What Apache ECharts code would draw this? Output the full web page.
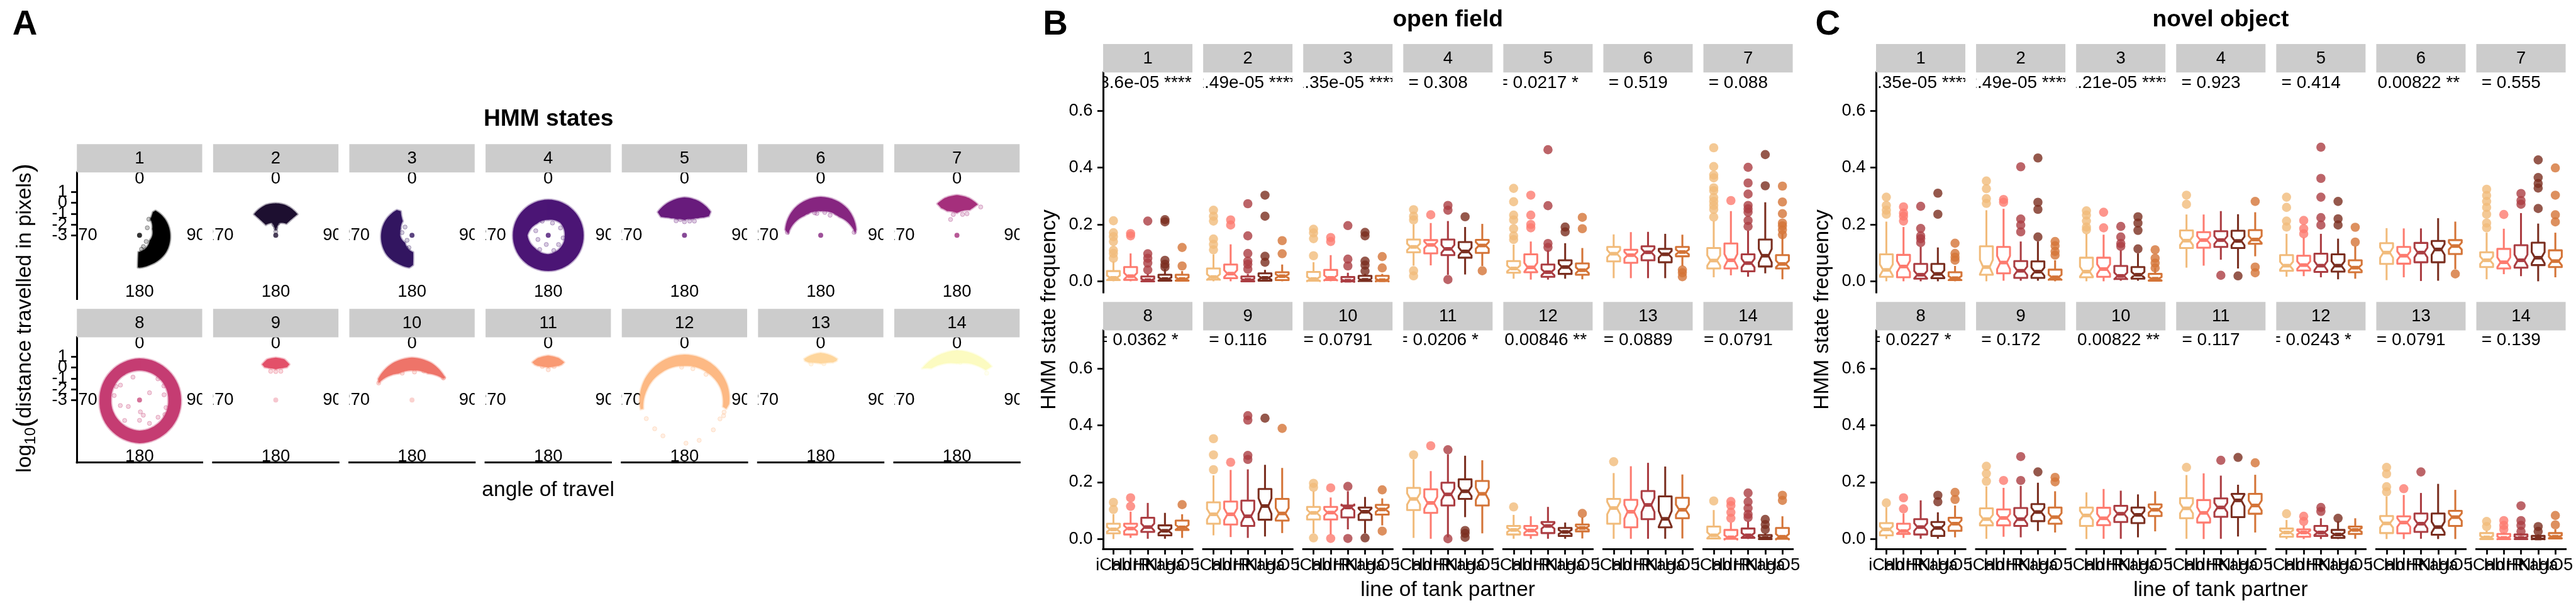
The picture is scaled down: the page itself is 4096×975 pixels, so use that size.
<!DOCTYPE html>
<html><head><meta charset="utf-8">
<style>html,body{margin:0;padding:0;background:#fff}#c{width:4096px;height:975px}</style>
<script src="https://cdn.jsdelivr.net/npm/echarts@6/dist/echarts.min.js"></script>
</head><body><div id="c"></div>
<script>
// ---------- categories, ticks, labels ----------
const lineNames = ['iCab','HdrR','HNI','Kaga','HO5'];
const lineColors = ['#F1BB7B','#FD7B6F','#AB3D42','#7A2E1F','#D47437'];
const stateColors = ['#000000','#1D0F30','#321560','#4B1575','#681B7C','#862580','#A52F7C','#C53C72','#E35069','#EE7469','#F99A73','#FDB984','#FED69D','#FCFBC1'];
const stateNames = ['1','2','3','4','5','6','7','8','9','10','11','12','13','14'];
const radialTicks = [-3,-2,-1,0,1];
const freqTicks = [0,0.2,0.4,0.6];
const centerAlpha = [1,1,1,1,1,1,1,0.9,0.4,0.4,0,0,0,0];
const angleLabelData = [[2.23,0],[2.23,90],[2.23,180],[2.23,270]];
const ofP = ['3.6e-05 ****','2.49e-05 ****','1.35e-05 ****','0.308','0.0217 *','0.519','0.088','0.0362 *','0.116','0.0791','0.0206 *','0.00846 **','0.0889','0.0791'];
const noP = ['1.35e-05 ****','2.49e-05 ****','1.21e-05 ****','0.923','0.414','0.00822 **','0.555','0.0227 *','0.172','0.00822 **','0.117','0.0243 *','0.0791','0.139'];

// ---------- panel A: clouds as [log10 distance, angle] outlines ----------
const cloud1=[[-0.28,33],[-0.2,60],[-0.16,91],[-0.09,122],[-0.1,161],[0,180],[-0.03,183],[-1.44,184],[-1.95,118],[-1.68,63],[-1.2,34],[-0.53,30]];
const cloud2=[[-0.04,0],[-0.06,18],[-0.18,40],[-0.2,46],[-1.55,43],[-1.82,16],[-2.5,4],[-2.5,356],[-1.8,343],[-1.67,316],[-0.2,314],[-0.04,342]];
const cloud3=[[-0.27,329],[-0.18,294],[-0.13,267],[-0.04,233],[-0.07,205],[0,185],[-0.25,178],[-1.43,176],[-2.07,223],[-1.8,300],[-1.44,327],[-0.55,335]];
const cloud4=[[0.3,0],[0.28,45],[0.27,90],[0.3,135],[0.3,180],[0.3,225],[0.27,270],[0.28,315],[0.3,0],[-1.58,0],[-1.5,315],[-1.08,270],[-1.3,225],[-1.25,180],[-1.4,135],[-1.47,90],[-1.4,45],[-1.58,0]];
const cloud5=[[0.51,0],[0.43,23],[0.26,48],[-0.15,52],[-0.59,47],[-1,38],[-1.35,25],[-1.58,0],[-1.35,335],[-1,322],[-0.59,313],[-0.24,308],[0.28,311],[0.4,337]];
const cloud6=[[0.56,0],[0.5,45],[0.33,81],[0.2,86],[-0.6,45],[-0.77,0],[-0.65,320],[0,273],[0.33,279],[0.48,316]];
const cloud7=[[0.72,0],[0.62,18],[0.44,34],[-0.09,30],[-0.38,27],[-0.94,0],[-0.59,338],[-0.09,330],[0.44,328],[0.62,342]];
const cloud8=[[0.85,0],[0.82,45],[0.85,90],[0.9,135],[1,180],[0.85,225],[0.7,270],[0.75,315],[0.85,0],[-0.27,0],[-0.3,315],[-0.38,270],[-0.3,225],[-0.16,180],[-0.25,135],[-0.34,90],[-0.3,45],[-0.27,0]];
const cloud9=[[0.92,0],[0.85,12],[0.53,21],[0.2,19],[0,12],[-0.16,0],[0,348],[0.2,341],[0.53,339],[0.85,348]];
const cloud10=[[0.92,0],[0.87,28],[0.7,56],[0.5,56],[-0.15,31],[-0.27,0],[-0.26,333],[0.46,297],[0.7,302],[0.85,332]];
const cloud11=[[1.11,0],[1,14],[0.79,23],[0.5,21],[0.3,17],[0.1,8],[0,0],[0.1,352],[0.3,343],[0.5,339],[0.79,337],[1,346]];
const cloud12=[[1.15,258],[1.15,285],[1.15,320],[1.2,0],[1.2,40],[1.2,70],[1.15,95],[0.95,102],[0.6,100],[0.5,70],[0.3,40],[0.15,0],[0.3,320],[0.6,285],[0.9,258]];
const cloud13=[[1.37,0],[1.25,12],[1.1,22],[0.9,22],[0.65,18],[0.5,10],[0.37,0],[0.5,350],[0.65,342],[0.9,338],[1.1,338],[1.25,348]];
const cloud14=[[1.6,0],[1.48,46],[0.83,44],[0.37,0],[0.76,321],[1.36,312]];
const clouds=[cloud1,cloud2,cloud3,cloud4,cloud5,cloud6,cloud7,cloud8,cloud9,cloud10,cloud11,cloud12,cloud13,cloud14];

const stray1=[[-2,46],[-1.28,30],[-1.9,161],[-2.16,133],[-1.7,172]];
const stray2=[[-2.33,0],[-2.65,0],[-2,350],[-1.85,10]];
const stray3=[[-2,320],[-2.04,285],[-2.35,225],[-1.83,194],[-1.7,205]];
const stray4=[[-1.68,59],[-1.77,290],[-2.13,192],[-1.97,248],[-1.72,132],[-1.47,211],[-1.8,19],[-1.58,337],[-1.6,100],[-1.5,160]];
const stray5=[[-1.75,0],[-1.5,345],[-1.6,20],[-1.45,330],[-1.4,35]];
const stray6=[[-0.85,10],[-0.95,350],[-0.85,345],[-0.55,330],[-0.5,35],[-0.95,25],[0.1,275],[0.1,85]];
const stray7=[[-1.42,338],[-1.05,350],[-1.0,15],[-0.8,25],[0.42,40]];
const stray8=[[-0.8,344],[-0.1,329],[-0.76,308],[-0.62,280],[-1.15,254],[-1.8,240],[-1.86,54],[-0.41,41],[-0.68,78],[-0.45,106],[-1.9,176],[-1.55,166],[-0.65,157],[-0.66,133],[-1.12,180],[-0.66,216],[-0.13,243],[-0.5,300],[-0.4,60],[-0.3,120]];
const stray9=[[-0.37,0],[-0.3,350],[-0.3,10]];
const stray10=[[0.46,297],[-0.4,5],[-0.35,340],[0.55,55],[-0.1,22]];
const stray11=[[-0.2,0],[0.15,350],[0.15,10]];
const stray12=[[0.83,107],[0.72,118],[0.84,136],[1.15,147],[0.97,160],[1,178],[1.08,200],[1.4,210],[0.87,211],[0.83,226],[0.93,244],[0.05,355],[0,15],[0.1,40],[0.9,112]];
const stray13=[[0.37,5],[0.45,345]];
const stray14=[[1.2,299],[1.42,60],[1.48,67],[1.44,257],[1.3,305],[1.35,50],[0.5,5],[0.7,48]];
const strays=[stray1,stray2,stray3,stray4,stray5,stray6,stray7,stray8,stray9,stray10,stray11,stray12,stray13,stray14];

// ---------- panel B (open field): [whisker low, q1, median, q3, whisker high] per line ----------
const ofBox1=[[0,.004,.012,.036,.07],[0,.005,.018,.05,.098],[0,0,.004,.017,.026],[0,.002,.008,.023,.043],[0,.002,.008,.023,.036]];
const ofOut1=[[.213,.171,.157,.14,.109,.098,.081],[.168,.16],[.212,.097,.081,.064,.04],[.217,.209,.074,.06,.05],[.119,.054]];
const ofBox2=[[0,.006,.015,.045,.095],[0,.011,.027,.059,.13],[0,0,.005,.017,.026],[0,.002,.012,.028,.04],[0,.004,.018,.032,.059]];
const ofOut2=[[.25,.229,.212,.149,.13,.111],[.216,.198],[.273,.16,.098,.071,.043,.06],[.303,.229,.088,.067],[.143,.097]];
const ofBox3=[[0,.002,.008,.033,.067],[0,.004,.012,.04,.092],[0,0,.002,.015,.03],[0,.001,.005,.019,.026],[0,.001,.004,.019,.026]];
const ofOut3=[[.183,.17,.15,.09],[.154,.14],[.196,.078,.054],[.172,.16,.071,.057,.036],[.087,.047]];
const ofBox4=[[.055,.102,.121,.147,.2],[.056,.098,.128,.145,.205],[.023,.092,.114,.147,.212],[.024,.083,.105,.138,.191],[.054,.1,.126,.146,.202]];
const ofOut4=[[.252,.229,.216,.037,.019],[.234],[.267,.25,.006],[.227],[.037]];
const ofBox5=[[.009,.03,.045,.071,.129],[.006,.032,.049,.095,.14],[.006,.016,.032,.059,.109],[.009,.026,.05,.074,.134],[.007,.023,.039,.063,.117]];
const ofOut5=[[.327,.28,.233,.216,.185,.16,.147],[.303,.233,.2,.188],[.463,.266,.133,.119],[.191,.174],[.225,.185]];
const ofBox6=[[.011,.07,.097,.121,.165],[.011,.065,.092,.111,.173],[.011,.074,.102,.123,.174],[.011,.067,.095,.114,.167],[.054,.088,.103,.121,.164]];
const ofOut6=[[],[],[],[],[.04,.03,.016]];
const ofBox7=[[.014,.045,.073,.117,.212],[.021,.045,.074,.133,.247],[.016,.035,.064,.095,.178],[.028,.052,.09,.147,.278],[.007,.045,.061,.092,.167]];
const ofOut7=[[.47,.404,.374,.364,.329,.319,.295,.281,.267,.253,.226],[.284],[.401,.346,.307,.267,.243,.214,.193,.255],[.446,.336],[.335,.279,.238,.205,.181,.164,.195]];
const ofBox8=[[0,.02,.034,.054,.087],[.004,.016,.037,.054,.096],[.001,.025,.042,.075,.127],[.001,.013,.029,.048,.092],[.004,.032,.041,.065,.087]];
const ofOut8=[[.129,.104],[.145,.115],[],[],[.121]];
const ofBox9=[[.013,.054,.087,.129,.224],[.007,.051,.087,.132,.243],[.004,.046,.08,.135,.245],[.009,.068,.116,.176,.261],[.021,.065,.09,.141,.25]];
const ofOut9=[[.353,.296,.244],[.27],[.434,.418,.294,.28],[.425],[.389]];
const ofBox10=[[.02,.069,.092,.113,.168],[.016,.069,.093,.113,.146],[.034,.076,.111,.118,.168],[.02,.067,.096,.111,.148],[.048,.086,.104,.12,.143]];
const ofOut10=[[.196,.182,.004],[.18,.002],[.185,.002],[.004],[.173,.028]];
const ofBox11=[[.004,.102,.141,.18,.28],[.001,.092,.127,.175,.239],[.006,.118,.157,.198,.298],[.077,.141,.168,.21,.293],[.02,.118,.159,.204,.277]];
const ofOut11=[[.296],[.328],[.314,.001],[.03,.02,.006],[]];
const ofBox12=[[.001,.016,.032,.046,.085],[.001,.014,.03,.046,.08],[.001,.021,.046,.06,.113],[.001,.011,.025,.039,.058],[.002,.027,.039,.051,.076]];
const ofOut12=[[.113],[],[],[],[.09]];
const ofBox13=[[.001,.054,.109,.141,.232],[.001,.041,.096,.138,.256],[.001,.07,.12,.169,.268],[.001,.041,.071,.15,.255],[.002,.073,.103,.145,.227]];
const ofOut13=[[.272],[],[],[],[]];
const ofBox14=[[.001,.002,.013,.044,.102],[0,.001,.006,.032,.058],[0,.004,.013,.037,.062],[0,0,.004,.014,.02],[0,.001,.008,.039,.08]];
const ofOut14=[[.134],[.132,.118,.094,.073],[.162,.131,.108,.087,.076],[.069,.051,.034],[.154,.136]];
const ofBoxes=[ofBox1,ofBox2,ofBox3,ofBox4,ofBox5,ofBox6,ofBox7,ofBox8,ofBox9,ofBox10,ofBox11,ofBox12,ofBox13,ofBox14];
const ofOuts=[ofOut1,ofOut2,ofOut3,ofOut4,ofOut5,ofOut6,ofOut7,ofOut8,ofOut9,ofOut10,ofOut11,ofOut12,ofOut13,ofOut14];

// ---------- panel C (novel object) ----------
const noBox1=[[0,.016,.04,.095,.21],[0,.014,.052,.093,.191],[0,.009,.023,.061,.121],[0,.011,.026,.061,.119],[0,.004,.011,.032,.054]];
const noOut1=[[.296,.267,.25,.236],[.262,.24,.229,.212],[.264,.186,.16,.136,.15],[.31,.236],[.134,.098,.074,.085]];
const noBox2=[[0,.023,.05,.123,.25],[.002,.028,.066,.121,.255],[.002,.012,.037,.071,.14],[.002,.012,.034,.07,.14],[0,.006,.014,.041,.074]];
const noOut2=[[.353,.326,.291,.274],[.288,.278],[.403,.219,.198,.174],[.434,.278,.253,.156],[.14,.125,.105,.092]];
const noBox3=[[0,.014,.034,.083,.167],[0,.016,.043,.083,.164],[.002,.008,.019,.054,.109],[.002,.009,.023,.05,.098],[0,.002,.009,.026,.047]];
const noOut3=[[.248,.233,.212,.191,.181],[.243,.188],[.193,.156,.133,.123],[.227,.205,.179,.114],[.111,.081,.064,.047]];
const noBox4=[[.048,.117,.143,.179,.235],[.055,.118,.145,.173,.235],[.076,.121,.145,.176,.247],[.045,.117,.142,.178,.236],[.088,.132,.147,.18,.243]];
const noOut4=[[.303,.271],[],[.021],[.019],[.281,.05,.03]];
const noBox5=[[.016,.037,.055,.092,.167],[.018,.038,.057,.09,.154],[.014,.033,.055,.097,.167],[.007,.034,.055,.095,.15],[.009,.032,.048,.074,.123]];
const noOut5=[[.296,.26,.212,.191],[.214,.185,.167],[.472,.362,.296,.224,.198],[.281,.22,.198],[.19,.138]];
const noBox6=[[.004,.061,.101,.134,.187],[.014,.062,.09,.121,.186],[.001,.067,.101,.135,.186],[.002,.067,.112,.142,.222],[.043,.096,.124,.145,.21]];
const noOut6=[[],[],[],[],[.026]];
const noBox7=[[.007,.05,.074,.102,.171],[.025,.045,.067,.114,.185],[.018,.048,.074,.127,.24],[0,.057,.083,.136,.203],[.014,.05,.071,.109,.171]];
const noOut7=[[.324,.302,.281,.26,.236,.205,.188],[.235],[.309,.284,.271],[.427,.365,.344,.328,.256],[.399,.303,.234,.209]];
const noBox8=[[.001,.013,.034,.056,.111],[.004,.018,.028,.054,.09],[.001,.016,.042,.07,.136],[.001,.011,.039,.06,.094],[.006,.029,.054,.075,.118]];
const noOut8=[[.127],[.145,.106],[],[.154,.131],[.164,.139]];
const noBox9=[[.001,.048,.07,.108,.185],[.008,.048,.074,.104,.18],[.006,.046,.07,.109,.187],[.028,.063,.095,.123,.198],[.023,.054,.077,.111,.168]];
const noOut9=[[.256,.23,.203],[.206],[.29,.206],[.236],[.217,.201]];
const noBox10=[[0,.046,.083,.111,.164],[.001,.049,.073,.11,.176],[.001,.06,.089,.117,.17],[.006,.056,.085,.111,.157],[.027,.081,.103,.122,.168]];
const noOut10=[[],[],[],[],[]];
const noBox11=[[.001,.073,.108,.144,.225],[0,.058,.092,.137,.231],[.001,.078,.111,.143,.223],[.009,.077,.136,.159,.191],[.023,.089,.118,.159,.226]];
const noOut11=[[.252],[],[.277],[.287],[.268]];
const noBox12=[[0,.008,.023,.037,.067],[0,.008,.023,.034,.048],[0,.011,.023,.046,.073],[0,.004,.016,.032,.062],[.001,.018,.032,.044,.073]];
const noOut12=[[.089],[.08,.062],[.111,.097],[.073],[]];
const noBox13=[[0,.021,.055,.081,.15],[0,.02,.058,.08,.155],[.001,.025,.054,.09,.162],[0,.015,.042,.09,.194],[0,.046,.077,.099,.173]];
const noOut13=[[.252,.229,.184,.166],[.177],[.236],[],[]];
const noBox14=[[0,0,.006,.021,.03],[0,0,.004,.018,.023],[0,0,.004,.016,.02],[0,0,.002,.011,.016],[0,.002,.008,.021,.034]];
const noOut14=[[.062,.044],[.065,.048,.034],[.117,.065,.048,.027],[.044,.027],[.083,.05]];
const noBoxes=[noBox1,noBox2,noBox3,noBox4,noBox5,noBox6,noBox7,noBox8,noBox9,noBox10,noBox11,noBox12,noBox13,noBox14];
const noOuts=[noOut1,noOut2,noOut3,noOut4,noOut5,noOut6,noOut7,noOut8,noOut9,noOut10,noOut11,noOut12,noOut13,noOut14];

// ---------- layout (reference pixels, scaled by S) ----------
const S = 4096/6720;
const FONT = '"Liberation Sans",Arial,Helvetica,sans-serif';
const AXW = 5*S, TKW = 4.5*S, TKL = 15*S;
const grids=[], xAxes=[], yAxes=[], polars=[], angleAxes=[], radiusAxes=[], series=[], gfx=[];

function T(text,x,y,size,opt){
  opt=opt||{};
  gfx.push({type:'text',x:x*S,y:y*S,rotation:opt.rot||0,silent:true,z:20,style:Object.assign({text,fontSize:size*S,fontFamily:FONT,fontWeight:opt.bold?'bold':'normal',
    fill:'#000',align:'center',textAlign:'center',verticalAlign:'middle',textVerticalAlign:'middle'},opt.style||{})});
}
function strip(x,y,w,h,label){
  gfx.push({type:'rect',shape:{x:x*S,y:y*S,width:w*S,height:h*S},style:{fill:'#CCCCCC'},silent:true,z:10});
  T(label,x+w/2,y+h/2+1,45);
}
function addGrid(x,y,w,h,xo,yo){
  const i=grids.length;
  grids.push({left:x*S,top:y*S,width:w*S,height:h*S,outerBoundsMode:'none'});
  xAxes.push(Object.assign({gridIndex:i,type:'value',splitLine:{show:false}},xo));
  yAxes.push(Object.assign({gridIndex:i,type:'value',splitLine:{show:false}},yo));
  return i;
}
const blackLine={show:true,onZero:false,lineStyle:{color:'#000',width:AXW,cap:'square'}};

// ---------- panel A ----------
const aX0=200.5, aStep=355.4, aW=327;
const aRows=[{strip:376,top:450,bottom:780,cy:614,unit:28.2},{strip:806,top:880,bottom:1207,cy:1043.8,unit:28.2}];
function rgba(hex,a){const n=parseInt(hex.slice(1),16);return `rgba(${n>>16},${(n>>8)&255},${n&255},${a})`;}
stateNames.forEach((name,s)=>{
  const col=s%7,row=aRows[s<7?0:1],x=aX0+aStep*col,w=aW,h=row.bottom-row.top,c=stateColors[s];
  strip(x,row.strip,w,row.top-row.strip,name);
  // Blank first and last labels keep ECharts from dropping the deliberately overlapping tick labels.
  const rLabels=[-7].concat(radialTicks,[2.5]);
  addGrid(x,row.top,w,h,
    {min:0,max:1,axisLine:Object.assign({},blackLine,{show:s>=7}),axisTick:{show:false},axisLabel:{show:false}},
    {min:-3-(row.bottom-row.cy)/row.unit,max:-3+(row.cy-row.top)/row.unit,
     axisLine:Object.assign({},blackLine,{show:col===0}),
     axisTick:{show:col===0,length:TKL,lineStyle:{color:'#000',width:TKW},customValues:radialTicks},
     axisLabel:{show:col===0,customValues:rLabels,hideOverlap:false,margin:25*S,color:'#000',fontSize:45*S,fontFamily:FONT,formatter:v=>radialTicks.includes(v)?String(v):''}});
  const cx=x+w/2, R=4*row.unit;
  polars.push({center:[cx*S,row.cy*S],radius:[0,R*S]});
  angleAxes.push({polarIndex:s,type:'value',min:0,max:360,startAngle:90,clockwise:true,show:false});
  radiusAxes.push({polarIndex:s,type:'value',min:-3,max:1,show:false});
  const cl=clouds[s];
  series.push({type:'custom',coordinateSystem:'polar',polarIndex:s,data:cl,silent:true,z:3,
    renderItem(p,api){
      if(p.dataIndex!==0) return null;
      const pts=[];
      for(let i=0;i<cl.length;i++){
        const a=cl[i],b=cl[(i+1)%cl.length];
        const d=((b[1]-a[1]+540)%360)-180;
        for(let k=0;k<8;k++){const t=k/8;pts.push(api.coord([a[0]+(b[0]-a[0])*t,(a[1]+d*t+360)%360]));}
      }
      return {type:'polygon',shape:{points:pts},style:{fill:c,stroke:rgba(c,0.35),lineWidth:6*S,lineJoin:'round'}};
    }});
  series.push({type:'scatter',coordinateSystem:'polar',polarIndex:s,data:strays[s],symbolSize:11*S,silent:true,z:4,
    itemStyle:{color:rgba(c,0.28),borderColor:rgba(c,0.5),borderWidth:1.5*S}});
  if(centerAlpha[s]>0) series.push({type:'scatter',coordinateSystem:'polar',polarIndex:s,data:[[-3,0]],symbolSize:13*S,silent:true,z:4,itemStyle:{color:rgba(c,centerAlpha[s])}});
  const clip={type:'rect',shape:{x:x*S,y:row.top*S,width:w*S,height:h*S}};
  series.push({type:'custom',coordinateSystem:'polar',polarIndex:s,data:angleLabelData,silent:true,z:2,
    renderItem(p,api){
      const pt=api.coord([api.value(0),api.value(1)]);
      return {type:'group',clipPath:clip,children:[{type:'text',style:{x:pt[0],y:pt[1],text:String(api.value(1)),fontSize:45*S,fontFamily:FONT,fill:'#000',
        align:'center',textAlign:'center',verticalAlign:'middle',textVerticalAlign:'middle'}}]};
    }});
});

// ---------- panels B, C ----------
const bxRows=[{strip:115,top:189,bottom:763,zero:734,perUnit:741.5,pY:0.698},{strip:788,top:862,bottom:1432,zero:1406.6,perUnit:742,pY:0.698}];
const NOTCH_K=0.25, BOXW=0.75, NOTCHW=0.25;
function boxRender(p,api){
  const xv=api.value(0),lo=api.value(1),q1=api.value(2),med=api.value(3),q3=api.value(4),hi=api.value(5);
  const col=lineColors[xv-1],half=BOXW/2,ind=BOXW*NOTCHW,nh=NOTCH_K*(q3-q1);
  const P=(a,b)=>api.coord([a,b]);
  const poly=[P(xv-half,q3),P(xv-half,med+nh),P(xv-half+ind,med),P(xv-half,med-nh),P(xv-half,q1),P(xv+half,q1),P(xv+half,med-nh),P(xv+half-ind,med),P(xv+half,med+nh),P(xv+half,q3)];
  const ln=(a,b,w)=>({type:'line',shape:{x1:a[0],y1:a[1],x2:b[0],y2:b[1]},style:{stroke:col,lineWidth:w}});
  return {type:'group',children:[
    ln(P(xv,q3),P(xv,hi),5*S),ln(P(xv,q1),P(xv,lo),5*S),
    {type:'polygon',shape:{points:poly},style:{fill:'none',stroke:col,lineWidth:5*S,lineJoin:'round'}},
    ln(P(xv-half+ind,med),P(xv+half-ind,med),9.5*S)]};
}
function facetPanel(x0,pLabels,boxes,outs){
  const step=261,w=233,xMin=0.4,xMax=5.6;
  stateNames.forEach((name,s)=>{
    const col=s%7,row=bxRows[s<7?0:1],x=x0+step*col,h=row.bottom-row.top;
    strip(x,row.strip,w,row.top-row.strip,name);
    const ticks=[1,2,3,4,5];
    const g=addGrid(x,row.top,w,h,
      {min:xMin,max:xMax,axisLine:Object.assign({},blackLine,{show:s>=7}),
       axisTick:{show:s>=7,length:TKL,lineStyle:{color:'#000',width:TKW},customValues:ticks},
       axisLabel:{show:s>=7,customValues:[0.45].concat(ticks,[5.55]),hideOverlap:false,margin:22*S,color:'#000',fontSize:45*S,fontFamily:FONT,formatter:v=>Number.isInteger(v)?lineNames[v-1]:''}},
      {min:-(row.bottom-row.zero)/row.perUnit,max:(row.zero-row.top)/row.perUnit,
       axisLine:Object.assign({},blackLine,{show:col===0}),
       axisTick:{show:col===0,length:TKL,lineStyle:{color:'#000',width:TKW},customValues:freqTicks},
       axisLabel:{show:col===0,customValues:freqTicks,margin:27*S,color:'#000',fontSize:45*S,fontFamily:FONT,formatter:v=>v.toFixed(1)}});
    const outData=[];
    outs[s].forEach((vals,i)=>vals.forEach(v=>outData.push([i+1,v])));
    series.push({type:'scatter',xAxisIndex:g,yAxisIndex:g,data:outData,symbolSize:24*S,silent:true,z:3,clip:false,
      itemStyle:{color:q=>lineColors[q.value[0]-1]}});
    series.push({type:'custom',xAxisIndex:g,yAxisIndex:g,coordinateSystem:'cartesian2d',silent:true,z:3,
      data:boxes[s].map((r,i)=>[i+1].concat(r)),encode:{x:0,y:[1,2,3,4,5]},renderItem:boxRender});
    const clip={type:'rect',shape:{x:x*S,y:row.top*S,width:w*S,height:h*S}};
    const txt='p.adj = '+pLabels[s];
    series.push({type:'custom',xAxisIndex:g,yAxisIndex:g,coordinateSystem:'cartesian2d',silent:true,z:4,
      data:[[1.17,row.pY]],encode:{x:0,y:1},
      renderItem(p,api){
        const pt=api.coord([api.value(0),api.value(1)]);
        return {type:'group',clipPath:clip,children:[{type:'text',style:{x:pt[0],y:pt[1],text:txt,fontSize:46*S,fontFamily:FONT,fill:'#000',
          align:'center',textAlign:'center',verticalAlign:'middle',textVerticalAlign:'middle'}}]};
      }});
  });
}
facetPanel(2877.7,ofP,ofBoxes,ofOuts);
facetPanel(4894,noP,noBoxes,noOuts);

// ---------- titles ----------
T('A',65,65,90,{bold:true});
T('B',2753,65,90,{bold:true});
T('C',4768,65,90,{bold:true});
T('HMM states',1431,312,61,{bold:true});
T('open field',3777,52,61,{bold:true});
T('novel object',5793,52,61,{bold:true});
T('angle of travel',1430,1279.5,55);
T('line of tank partner',3777,1540,55);
T('line of tank partner',5793,1540,55);
T('HMM state frequency',2737,808,55,{rot:Math.PI/2});
T('HMM state frequency',4753.5,808,55,{rot:Math.PI/2});
T('log{s|10}{p|(}distance travelled in pixels{p|)}',65,830,55,{rot:Math.PI/2,style:{rich:{s:{fontSize:40*S,fontFamily:FONT,fill:'#000',verticalAlign:'bottom'},p:{fontSize:70*S,fontFamily:FONT,fill:'#000'}}}});

const chart=echarts.init(document.getElementById('c'),null,{width:4096,height:975,renderer:'canvas'});
chart.setOption({animation:false,backgroundColor:'#fff',grid:grids,xAxis:xAxes,yAxis:yAxes,polar:polars,angleAxis:angleAxes,radiusAxis:radiusAxes,series,graphic:{elements:gfx}});
</script></body></html>
